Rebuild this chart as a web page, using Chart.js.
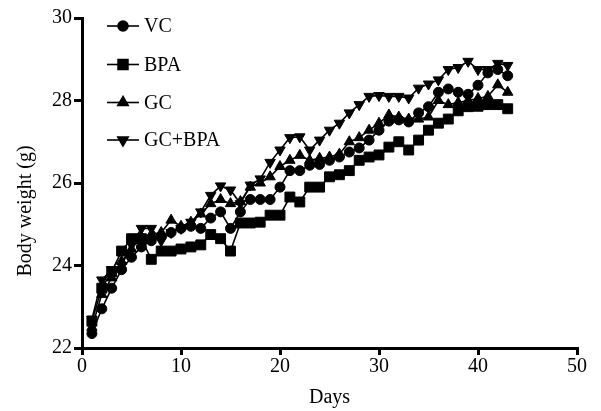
<!DOCTYPE html>
<html lang="en">
<head>
    <meta charset="UTF-8">
    <title>Body weight</title>
    <script src="https://cdn.jsdelivr.net/npm/chart.js"></script>
    <style>
        html, body { margin: 0; padding: 0; background: #fff; }
        #wrap { width: 601px; height: 411px; }
    </style>
</head>
<body>
    <div id="wrap"><canvas id="myChart" width="601" height="411"></canvas></div>
    <script>
        // days of the study
        const days = [1,2,3,4,5,6,7,8,9,10,11,12,13,14,15,16,17,18,19,20,21,22,23,24,25,26,27,28,29,30,31,32,33,34,35,36,37,38,39,40,41,42,43];

        const vc = [22.35,22.95,23.45,23.9,24.2,24.45,24.6,24.7,24.8,24.9,
                    24.95,24.9,25.15,25.3,24.9,25.3,25.6,25.6,25.6,25.9,
                    26.3,26.3,26.43,26.45,26.55,26.63,26.75,26.85,27.04,27.28,
                    27.5,27.53,27.48,27.7,27.85,28.2,28.28,28.2,28.15,28.37,
                    28.67,28.75,28.6];
        const bpa = [22.65,23.45,23.85,24.35,24.65,24.65,24.15,24.35,24.35,24.4,
                     24.45,24.5,24.75,24.65,24.35,25.03,25.03,25.05,25.22,25.22,
                     25.66,25.54,25.9,25.9,26.15,26.2,26.3,26.55,26.63,26.68,
                     26.87,27.0,26.8,27.04,27.28,27.45,27.55,27.75,27.85,27.86,
                     27.9,27.9,27.8];
        const gc = [22.5,23.3,23.7,24.1,24.4,24.7,24.75,24.8,25.1,24.95,
                    25.05,25.25,25.5,25.6,25.5,25.55,25.9,26.0,26.15,26.4,
                    26.55,26.67,26.55,26.6,26.63,26.7,27.0,27.1,27.28,27.45,
                    27.65,27.6,27.55,27.55,27.6,28.0,27.9,27.95,28.0,28.05,
                    28.1,28.38,28.2];
        const gcbpa = [22.7,23.65,23.9,24.0,24.5,24.9,24.9,24.6,24.8,24.9,
                       25.05,25.3,25.7,25.93,25.83,25.5,25.95,26.1,26.5,26.8,
                       27.1,27.12,26.8,27.04,27.28,27.45,27.7,27.9,28.1,28.12,
                       28.1,28.1,28.06,28.3,28.4,28.5,28.75,28.8,28.95,28.75,
                       28.75,28.9,28.85];

        const xTicks = [0,10,20,30,40,50];
        const yTicks = [22,24,26,28,30];

        const serif = "'Liberation Serif', 'DejaVu Serif', serif";

        function toPoints(values) {
            return values.map((v, i) => ({x: days[i], y: v}));
        }

        function series(label, values, style, radius, rotation) {
            return {
                label: label,
                data: toPoints(values),
                borderColor: '#000',
                backgroundColor: '#000',
                borderWidth: 1.6,
                pointStyle: style,
                pointRadius: radius,
                pointRotation: rotation || 0,
                pointBorderWidth: 1,
                pointBorderColor: '#000',
                pointBackgroundColor: '#000',
                tension: 0
            };
        }

        // legend drawn as line + marker + label, and the y title (sits low in the figure)
        const lineLegend = {
            id: 'lineLegend',
            afterDraw(chart) {
                const ctx = chart.ctx;
                const rows = [26, 64.5, 102.5, 140];
                ctx.save();
                chart.data.datasets.forEach((ds, i) => {
                    const y = rows[i];
                    ctx.strokeStyle = '#000';
                    ctx.lineWidth = 1.6;
                    ctx.beginPath();
                    ctx.moveTo(107, y);
                    ctx.lineTo(139, y);
                    ctx.stroke();
                    ctx.fillStyle = '#000';
                    Chart.helpers.drawPoint(ctx, {
                        pointStyle: ds.pointStyle,
                        rotation: ds.pointRotation,
                        radius: ds.pointRadius,
                        borderWidth: 1
                    }, 123, y);
                    ctx.font = '20px ' + serif;
                    ctx.textBaseline = 'middle';
                    ctx.textAlign = 'left';
                    ctx.fillText(ds.label, 144, y + 1);
                });

                ctx.translate(26, 211);
                ctx.rotate(-Math.PI / 2);
                ctx.font = '20px ' + serif;
                ctx.textAlign = 'center';
                ctx.textBaseline = 'middle';
                ctx.fillText('Body weight (g)', 0, 0);
                ctx.restore();
            }
        };

        const config = {
            type: 'line',
            data: {
                datasets: [
                    series('VC', vc, 'circle', 5),
                    series('BPA', bpa, 'rect', 7),
                    series('GC', gc, 'triangle', 6),
                    series('GC+BPA', gcbpa, 'triangle', 6, 180)
                ]
            },
            options: {
                responsive: false,
                animation: false,
                devicePixelRatio: 1,
                clip: false,
                layout: { padding: { top: 18, right: 24, left: 0, bottom: 0 } },
                plugins: {
                    legend: { display: false },
                    tooltip: { enabled: false }
                },
                scales: {
                    x: {
                        type: 'linear',
                        min: 0,
                        max: 50,
                        afterBuildTicks: (axis) => { axis.ticks = xTicks.map(v => ({value: v})); },
                        afterFit: (axis) => { axis.height = 63; },
                        border: { display: true, color: '#000', width: 3 },
                        grid: { display: true, drawOnChartArea: false, drawTicks: true, tickLength: 7, color: '#000', lineWidth: 3 },
                        ticks: { color: '#000', font: { family: serif, size: 20 }, padding: 0, maxRotation: 0 },
                        title: { display: true, text: 'Days', color: '#000', font: { family: serif, size: 20 }, padding: { top: 0, bottom: 1 } }
                    },
                    y: {
                        min: 22,
                        max: 30,
                        afterBuildTicks: (axis) => { axis.ticks = yTicks.map(v => ({value: v})); },
                        afterFit: (axis) => { axis.width = 82; },
                        border: { display: true, color: '#000', width: 3 },
                        grid: { display: true, drawOnChartArea: false, drawTicks: true, tickLength: 8, color: '#000', lineWidth: 3 },
                        ticks: { color: '#000', font: { family: serif, size: 20 }, padding: 2 }
                    }
                }
            },
            plugins: [lineLegend]
        };

        const myChart = new Chart(document.getElementById('myChart'), config);
    </script>
</body>
</html>
